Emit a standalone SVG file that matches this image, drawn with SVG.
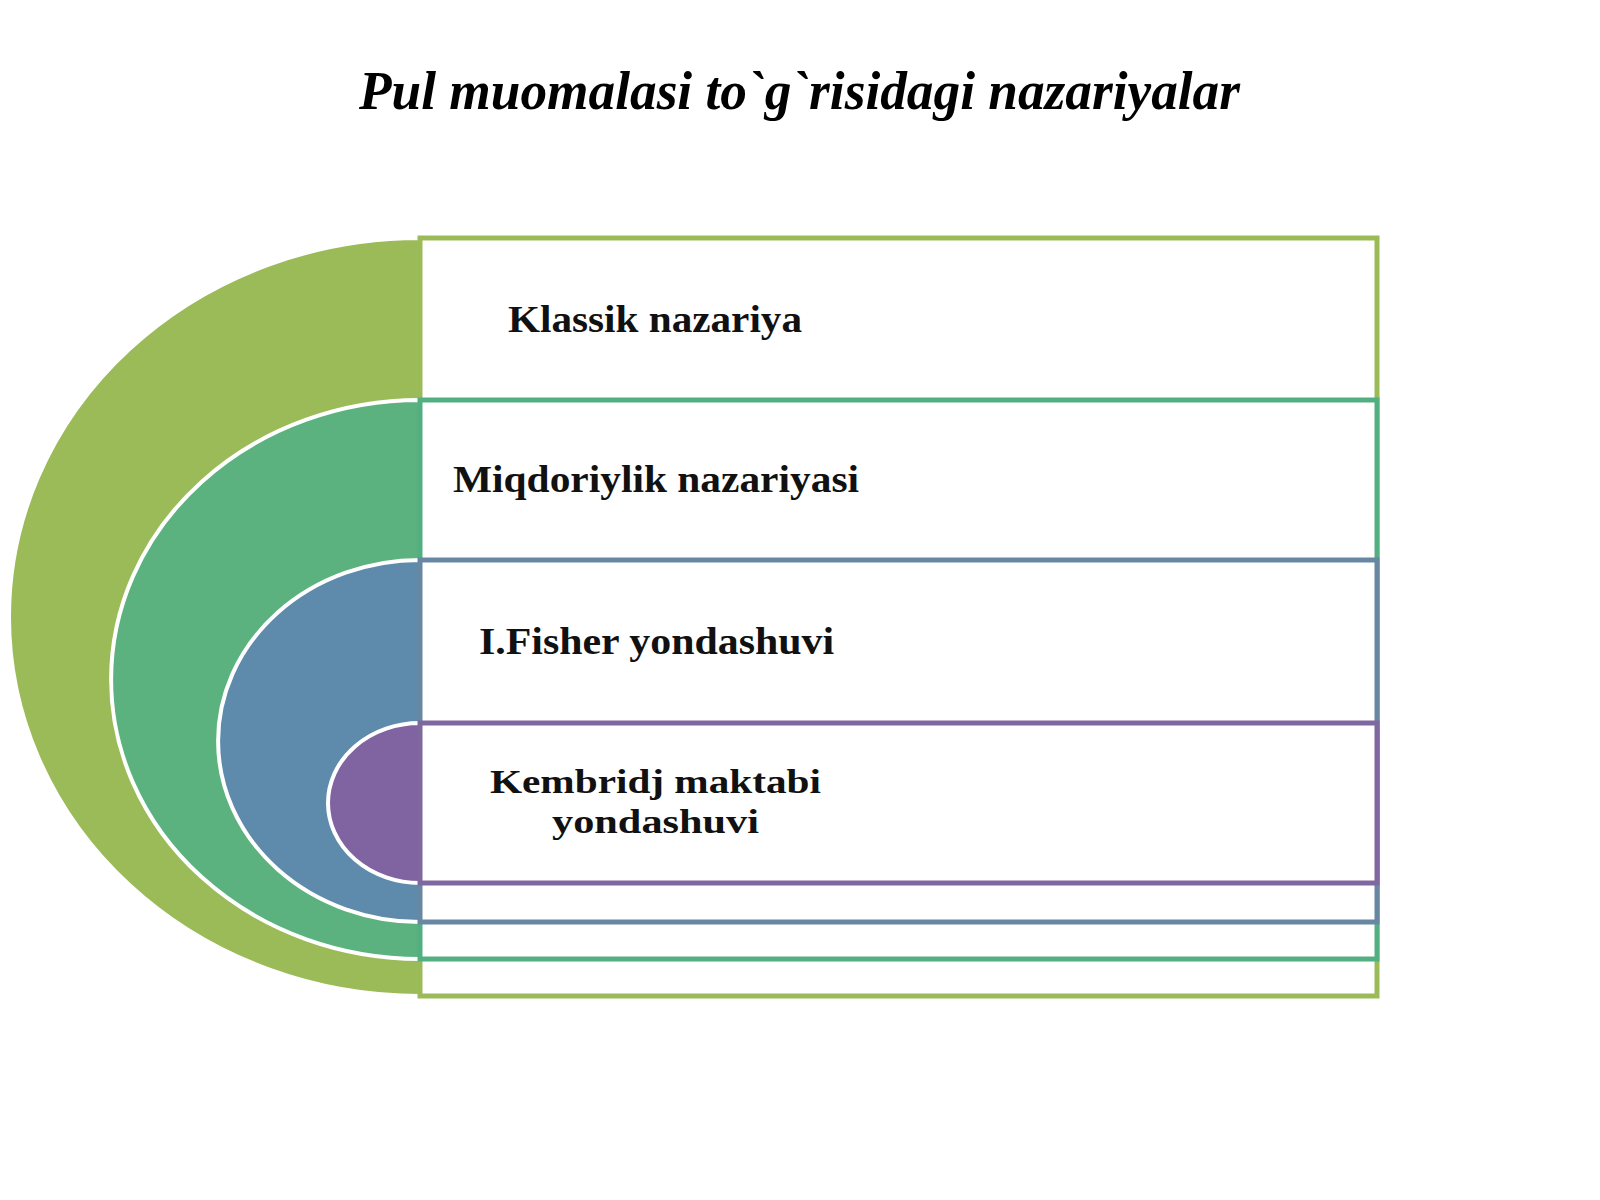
<svg xmlns="http://www.w3.org/2000/svg" width="1600" height="1200" viewBox="0 0 1600 1200">
  <style>
    .arc { stroke: #ffffff; stroke-width: 4; }
    .box { fill: #ffffff; stroke-width: 5; }
    .lbl { font-family: "Liberation Serif", "Times New Roman", serif; font-weight: bold; font-size: 38px; fill: #111111; }
    .lbl2 { font-family: "Liberation Serif", "Times New Roman", serif; font-weight: bold; font-size: 34px; fill: #111111; }
    .title { font-family: "Liberation Serif", "Times New Roman", serif; font-weight: bold; font-style: italic; font-size: 54px; fill: #000000; }
  </style>
  <rect x="0" y="0" width="1600" height="1200" fill="#ffffff"/>
  <text class="title" x="359" y="109" textLength="881" lengthAdjust="spacingAndGlyphs">Pul muomalasi to`g`risidagi nazariyalar</text>

  <g id="node-klassik">
    <path class="arc" d="M420,238 A411,379 0 0 0 420,996 Z" fill="#9BBB59"/>
    <rect class="box" x="420" y="238" width="957" height="758" stroke="#9BBB59"/>
    <text class="lbl" x="508" y="332" textLength="294" lengthAdjust="spacingAndGlyphs">Klassik nazariya</text>
  </g>

  <g id="node-miqdoriylik">
    <path class="arc" d="M420,400 A309,279.5 0 0 0 420,959 Z" fill="#5BB27F"/>
    <rect class="box" x="420" y="400" width="957" height="559" stroke="#52AF82"/>
    <text class="lbl" x="453" y="492" textLength="406" lengthAdjust="spacingAndGlyphs">Miqdoriylik nazariyasi</text>
  </g>

  <g id="node-fisher">
    <path class="arc" d="M420,560 A202,181 0 0 0 420,922 Z" fill="#5E8AAC"/>
    <rect class="box" x="420" y="560" width="957" height="362" stroke="#6887A3"/>
    <text class="lbl" x="479" y="654" textLength="355" lengthAdjust="spacingAndGlyphs">I.Fisher yondashuvi</text>
  </g>

  <g id="node-kembridj">
    <path class="arc" d="M420,723 A92,80 0 0 0 420,883 Z" fill="#8064A2"/>
    <rect class="box" x="420" y="723" width="957" height="160" stroke="#7F67A0"/>
    <text class="lbl2" x="490" y="793" textLength="331" lengthAdjust="spacingAndGlyphs">Kembridj maktabi</text>
    <text class="lbl2" x="552" y="833" textLength="207" lengthAdjust="spacingAndGlyphs">yondashuvi</text>
  </g>

  <g id="connectors"></g>
</svg>
